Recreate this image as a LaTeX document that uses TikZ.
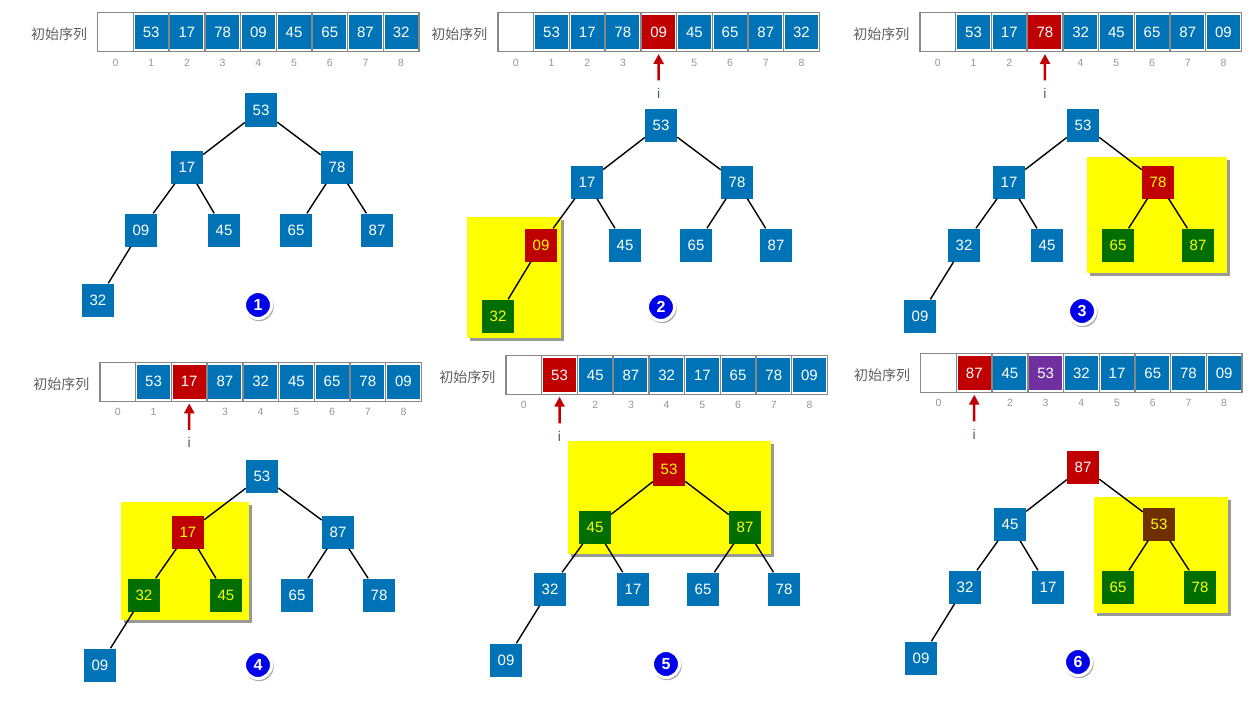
\documentclass[tikz,border=0pt]{standalone}
\usepackage{fontspec}
\setmainfont{Liberation Sans}
\newfontfamily\cjk{Noto Sans CJK SC}
\usepackage{tikz}
\usetikzlibrary{arrows.meta,shadows}

\definecolor{keyblue}{RGB}{0,115,183}
\definecolor{hotred}{RGB}{192,0,0}
\definecolor{kidgreen}{RGB}{0,110,0}
\definecolor{subbrown}{RGB}{110,48,0}
\definecolor{midpurple}{RGB}{112,48,160}
\definecolor{hilite}{RGB}{255,255,0}
\definecolor{badgeblue}{RGB}{0,0,235}
\definecolor{slotgray}{RGB}{135,135,135}
\definecolor{idxgray}{RGB}{150,150,150}
\definecolor{labgray}{RGB}{95,95,95}
\definecolor{ilgray}{RGB}{80,90,110}

\tikzset{
    key/.style={rectangle, minimum width=32pt, minimum height=33pt, inner sep=0pt,
        fill=keyblue, text=white, font=\fontsize{15}{17}\selectfont},
    hot/.style={key, fill=hotred, text=hilite},
    hotw/.style={key, fill=hotred},
    kid/.style={key, fill=kidgreen, text=hilite},
    sub/.style={key, fill=subbrown, text=hilite},
    slot/.style={rectangle, draw=slotgray, line width=1.4pt, minimum width=35.7pt,
        minimum height=39pt, inner sep=0pt},
    val/.style={key, minimum width=33pt, minimum height=34pt},
    valhot/.style={val, fill=hotred},
    valmid/.style={val, fill=midpurple},
    idx/.style={text=idxgray, font=\fontsize{10.5}{12}\selectfont},
    seqlabel/.style={anchor=east, text=labgray, font=\cjk\fontsize{14}{16}\selectfont},
    ilabel/.style={text=ilgray, font=\fontsize{14}{16}\selectfont},
    ptr/.style={draw=hotred, line width=2.5pt, -{Triangle[width=10pt,length=10pt]},
        shorten <=4pt, shorten >=1.5pt},
    zone/.style={fill=hilite, drop shadow={shadow xshift=2.5pt, shadow yshift=-2.5pt,
        opacity=0.4, fill=black}},
    link/.style={draw=black, line width=1.4pt},
    badge/.style={circle, fill=badgeblue, draw=white, line width=3pt, minimum size=27pt,
        inner sep=0pt, text=white, font=\bfseries\fontsize{16}{18}\selectfont,
        drop shadow={shadow xshift=1pt, shadow yshift=-1.5pt, shadow scale=1.08,
        opacity=0.45, fill=black!70}}
}

\begin{document}
\begin{tikzpicture}[x=1pt, y=-1pt]
    \useasboundingbox (0,0) rectangle (1251,709);

    % panel 1
    \node[seqlabel] (p1lab) at (90.7,34) {初始序列};
    \node[slot] (p1s0) at (115.55,32.3) {};
    \foreach \v/\s [count=\k] in {53/val,17/val,78/val,09/val,45/val,65/val,87/val,32/val} {
        \node[slot] (p1s\k) at ({97.7+(\k+0.5)*35.7},32.3) {};
        \node[\s] (p1v\k) at (p1s\k) {\v};
    }
    \foreach \k in {0,...,8} \node[idx] (p1n\k) at ({97.7+(\k+0.5)*35.7},62.5) {\k};

    \node[key] (p1a) at (261,110) {53};
    \node[key] (p1b) at (187,167) {17};
    \node[key] (p1c) at (337,167) {78};
    \node[key] (p1d) at (141,230) {09};
    \node[key] (p1e) at (224,230) {45};
    \node[key] (p1f) at (296,230) {65};
    \node[key] (p1g) at (377,230) {87};
    \node[key] (p1h) at (98,300) {32};
    \node[badge] (p1no) at (258,305) {1};

    % panel 2
    \node[seqlabel] (p2lab) at (491,34) {初始序列};
    \node[slot] (p2s0) at (515.85,32.3) {};
    \foreach \v/\s [count=\k] in {53/val,17/val,78/val,09/valhot,45/val,65/val,87/val,32/val} {
        \node[slot] (p2s\k) at ({498+(\k+0.5)*35.7},32.3) {};
        \node[\s] (p2v\k) at (p2s\k) {\v};
    }
    \foreach \k in {0,1,2,3,5,6,7,8} \node[idx] (p2n\k) at ({498+(\k+0.5)*35.7},62.5) {\k};
    \node[ilabel] (p2i) at (658.6,93) {i};
    \draw[ptr] (p2i) -- (p2s4.south);

    \fill[zone] (467,217) rectangle (561,338);
    \node[key] (p2a) at (661,125) {53};
    \node[key] (p2b) at (587,182) {17};
    \node[key] (p2c) at (737,182) {78};
    \node[hot] (p2d) at (541,245) {09};
    \node[key] (p2e) at (625,245) {45};
    \node[key] (p2f) at (696,245) {65};
    \node[key] (p2g) at (776,245) {87};
    \node[kid] (p2h) at (498,316) {32};
    \node[badge] (p2no) at (661,307) {2};

    % panel 3
    \node[seqlabel] (p3lab) at (913,34) {初始序列};
    \node[slot] (p3s0) at (937.85,32.3) {};
    \foreach \v/\s [count=\k] in {53/val,17/val,78/valhot,32/val,45/val,65/val,87/val,09/val} {
        \node[slot] (p3s\k) at ({920+(\k+0.5)*35.7},32.3) {};
        \node[\s] (p3v\k) at (p3s\k) {\v};
    }
    \foreach \k in {0,1,2,4,5,6,7,8} \node[idx] (p3n\k) at ({920+(\k+0.5)*35.7},62.5) {\k};
    \node[ilabel] (p3i) at (1045,93) {i};
    \draw[ptr] (p3i) -- (p3s3.south);

    \fill[zone] (1087,157) rectangle (1227,273);
    \node[key] (p3a) at (1083,125) {53};
    \node[key] (p3b) at (1009,182) {17};
    \node[hot] (p3c) at (1158,182) {78};
    \node[key] (p3d) at (964,245) {32};
    \node[key] (p3e) at (1047,245) {45};
    \node[kid] (p3f) at (1118,245) {65};
    \node[kid] (p3g) at (1198,245) {87};
    \node[key] (p3h) at (920,316) {09};
    \node[badge] (p3no) at (1082,311) {3};

    % panel 4
    \node[seqlabel] (p4lab) at (93,384) {初始序列};
    \node[slot] (p4s0) at (117.85,381.7) {};
    \foreach \v/\s [count=\k] in {53/val,17/valhot,87/val,32/val,45/val,65/val,78/val,09/val} {
        \node[slot] (p4s\k) at ({100+(\k+0.5)*35.7},381.7) {};
        \node[\s] (p4v\k) at (p4s\k) {\v};
    }
    \foreach \k in {0,1,3,4,5,6,7,8} \node[idx] (p4n\k) at ({100+(\k+0.5)*35.7},411.5) {\k};
    \node[ilabel] (p4i) at (189.2,442.5) {i};
    \draw[ptr] (p4i) -- (p4s2.south);

    \fill[zone] (121,502) rectangle (249,620);
    \node[key] (p4a) at (262,476) {53};
    \node[hot] (p4b) at (188,532) {17};
    \node[key] (p4c) at (338,532) {87};
    \node[kid] (p4d) at (144,595) {32};
    \node[kid] (p4e) at (226,595) {45};
    \node[key] (p4f) at (297,595) {65};
    \node[key] (p4g) at (379,595) {78};
    \node[key] (p4h) at (100,665) {09};
    \node[badge] (p4no) at (258,665) {4};

    % panel 5
    \node[seqlabel] (p5lab) at (499,377) {初始序列};
    \node[slot] (p5s0) at (523.85,375) {};
    \foreach \v/\s [count=\k] in {53/valhot,45/val,87/val,32/val,17/val,65/val,78/val,09/val} {
        \node[slot] (p5s\k) at ({506+(\k+0.5)*35.7},375) {};
        \node[\s] (p5v\k) at (p5s\k) {\v};
    }
    \foreach \k in {0,2,3,4,5,6,7,8} \node[idx] (p5n\k) at ({506+(\k+0.5)*35.7},405) {\k};
    \node[ilabel] (p5i) at (559.5,436) {i};
    \draw[ptr] (p5i) -- (p5s1.south);

    \fill[zone] (568,441) rectangle (771,554);
    \node[hot] (p5a) at (669,469) {53};
    \node[kid] (p5b) at (595,527) {45};
    \node[kid] (p5c) at (745,527) {87};
    \node[key] (p5d) at (550,589) {32};
    \node[key] (p5e) at (633,589) {17};
    \node[key] (p5f) at (703,589) {65};
    \node[key] (p5g) at (784,589) {78};
    \node[key] (p5h) at (506,660) {09};
    \node[badge] (p5no) at (666,664) {5};

    % panel 6
    \node[seqlabel] (p6lab) at (913.7,375) {初始序列};
    \node[slot] (p6s0) at (938.55,373) {};
    \foreach \v/\s [count=\k] in {87/valhot,45/val,53/valmid,32/val,17/val,65/val,78/val,09/val} {
        \node[slot] (p6s\k) at ({920.7+(\k+0.5)*35.7},373) {};
        \node[\s] (p6v\k) at (p6s\k) {\v};
    }
    \foreach \k in {0,2,3,4,5,6,7,8} \node[idx] (p6n\k) at ({920.7+(\k+0.5)*35.7},403) {\k};
    \node[ilabel] (p6i) at (974.2,434) {i};
    \draw[ptr] (p6i) -- (p6s1.south);

    \fill[zone] (1094,497) rectangle (1228,613);
    \node[hotw] (p6a) at (1083,467) {87};
    \node[key] (p6b) at (1010,524) {45};
    \node[sub] (p6c) at (1159,524) {53};
    \node[key] (p6d) at (965,587) {32};
    \node[key] (p6e) at (1048,587) {17};
    \node[kid] (p6f) at (1118,587) {65};
    \node[kid] (p6g) at (1200,587) {78};
    \node[key] (p6h) at (921,658) {09};
    \node[badge] (p6no) at (1078,662) {6};

    \foreach \p in {1,...,6}
        \foreach \u/\w in {a/b,a/c,b/d,b/e,c/f,c/g,d/h}
            \draw[link] (p\p\u) -- (p\p\w);
\end{tikzpicture}
\end{document}
